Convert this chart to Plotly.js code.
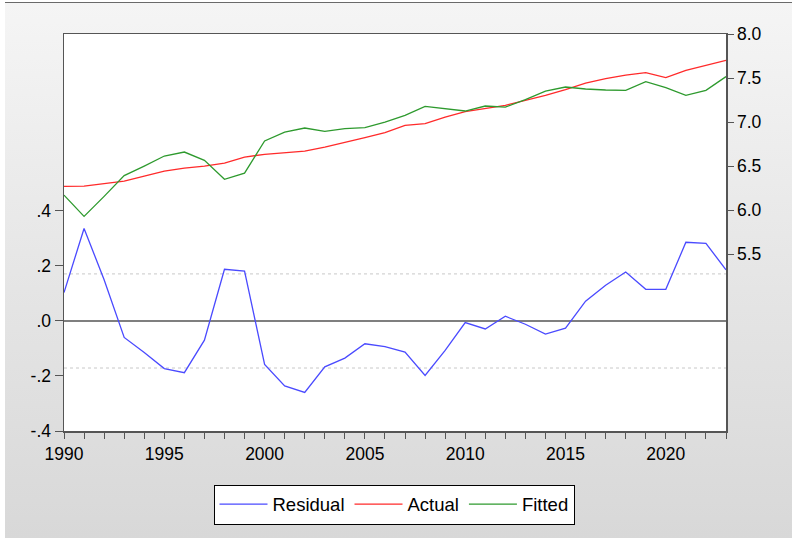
<!DOCTYPE html>
<html>
<head>
<meta charset="utf-8">
<script src="https://cdn.plot.ly/plotly-3.0.1.min.js"></script>
<style>
  html, body { margin:0; padding:0; background:#ffffff; }
  #wrap { position:relative; width:792px; height:543px; overflow:hidden; background:#ffffff; }
  #panel { position:absolute; left:5px; top:2px; width:787px; height:535px;
           border-top:1.5px solid #6a6a6a;
           background:linear-gradient(to bottom, #f5f5f5 0%, #e6e6e6 50%, #d8d8d8 100%); }
  #chart { position:absolute; left:0; top:0; width:792px; height:543px; }
</style>
</head>
<body>
<div id="wrap">
  <div id="panel"></div>
  <div id="chart"></div>
</div>
<script>
const years = [1990,1991,1992,1993,1994,1995,1996,1997,1998,1999,
               2000,2001,2002,2003,2004,2005,2006,2007,2008,2009,
               2010,2011,2012,2013,2014,2015,2016,2017,2018,2019,
               2020,2021,2022,2023];

const residual = [0.103,0.336,0.150,-0.060,-0.115,-0.173,-0.188,-0.070,0.188,0.181,
                  -0.158,-0.236,-0.260,-0.167,-0.135,-0.083,-0.093,-0.113,-0.198,-0.107,
                  -0.006,-0.029,0.017,-0.012,-0.048,-0.026,0.072,0.130,0.178,0.115,
                  0.115,0.286,0.282,0.186];

const actual = [6.269,6.271,6.300,6.328,6.386,6.443,6.477,6.500,6.534,6.602,
                6.633,6.648,6.670,6.716,6.766,6.823,6.879,6.962,6.982,7.057,
                7.118,7.152,7.190,7.247,7.303,7.368,7.443,7.493,7.534,7.561,
                7.505,7.588,7.644,7.700];

const fitted = [6.170,5.928,6.155,6.392,6.500,6.614,6.659,6.565,6.349,6.420,
                6.785,6.886,6.932,6.895,6.925,6.936,7.000,7.076,7.178,7.152,
                7.125,7.182,7.170,7.254,7.352,7.398,7.375,7.364,7.360,7.459,
                7.390,7.303,7.360,7.516];

const leftTicks = [-0.4,-0.2,0.0,0.2,0.4];
const leftTickText = ['-.4','-.2','.0','.2','.4'];
const rightTicks = [5.5,6.0,6.5,7.0,7.5,8.0];
const rightTickText = ['5.5','6.0','6.5','7.0','7.5','8.0'];
const xTicks = [1990,1995,2000,2005,2010,2015,2020];
const residualBand = 0.171;

const font = {family:'"Liberation Sans", Arial, sans-serif', size:17, color:'#000000'};
const axisColor = '#555555';

const traces = [
  {x:years, y:residual, name:'Residual', type:'scatter', mode:'lines',
   line:{color:'#4a4aff', width:1.3}, yaxis:'y', hoverinfo:'skip'},
  {x:years, y:actual, name:'Actual', type:'scatter', mode:'lines',
   line:{color:'#ff2a2a', width:1.3}, yaxis:'y2', hoverinfo:'skip'},
  {x:years, y:fitted, name:'Fitted', type:'scatter', mode:'lines',
   line:{color:'#2e9a2e', width:1.3}, yaxis:'y2', hoverinfo:'skip'}
];

const layout = {
  width:792, height:543,
  margin:{l:64, r:66, t:34, b:112, pad:0},
  paper_bgcolor:'rgba(0,0,0,0)',
  plot_bgcolor:'#ffffff',
  font:font,
  showlegend:true,
  legend:{orientation:'h', x:0.4985, xanchor:'center', y:-0.135, yanchor:'top',
          bgcolor:'#ffffff', bordercolor:'#000000', borderwidth:1,
          itemwidth:48,
          font:{family:font.family, size:18.5, color:'#000000'}, traceorder:'normal'},
  xaxis:{range:[1990,2023], tickvals:xTicks, ticktext:xTicks.map(String),
         ticks:'outside', ticklen:6, tickwidth:1, tickcolor:axisColor,
         minor:{dtick:1, tick0:1990, ticks:'outside', ticklen:6, tickwidth:1, tickcolor:axisColor, showgrid:false},
         showline:true, linecolor:axisColor, linewidth:1.5, mirror:true,
         showgrid:false, zeroline:false, fixedrange:true,
         tickfont:{family:font.family, size:17.5, color:'#000000'}},
  yaxis:{range:[-0.4,1.043], tickvals:leftTicks, ticktext:leftTickText,
         ticks:'outside', ticklen:8, tickwidth:1, tickcolor:axisColor,
         showline:true, linecolor:axisColor, linewidth:1.5,
         showgrid:false, zeroline:false, fixedrange:true,
         tickfont:{family:font.family, size:17.5, color:'#000000'}},
  yaxis2:{range:[3.49,8.0], tickvals:rightTicks, ticktext:rightTickText,
          overlaying:'y', side:'right',
          ticks:'outside', ticklen:6, tickwidth:1, tickcolor:axisColor,
          showline:true, linecolor:axisColor, linewidth:1.5,
          showgrid:false, zeroline:false, fixedrange:true,
          tickfont:{family:font.family, size:17.5, color:'#000000'}},
  shapes:[
    {type:'line', xref:'paper', x0:0, x1:1, yref:'y', y0:0, y1:0,
     line:{color:'#555555', width:1.5}, layer:'below'},
    {type:'line', xref:'paper', x0:0, x1:1, yref:'y', y0:residualBand, y1:residualBand,
     line:{color:'#c8c8c8', width:1, dash:'dot'}, layer:'below'},
    {type:'line', xref:'paper', x0:0, x1:1, yref:'y', y0:-residualBand, y1:-residualBand,
     line:{color:'#c8c8c8', width:1, dash:'dot'}, layer:'below'}
  ]
};

Plotly.newPlot('chart', traces, layout, {displayModeBar:false, staticPlot:true});
</script>
</body>
</html>
